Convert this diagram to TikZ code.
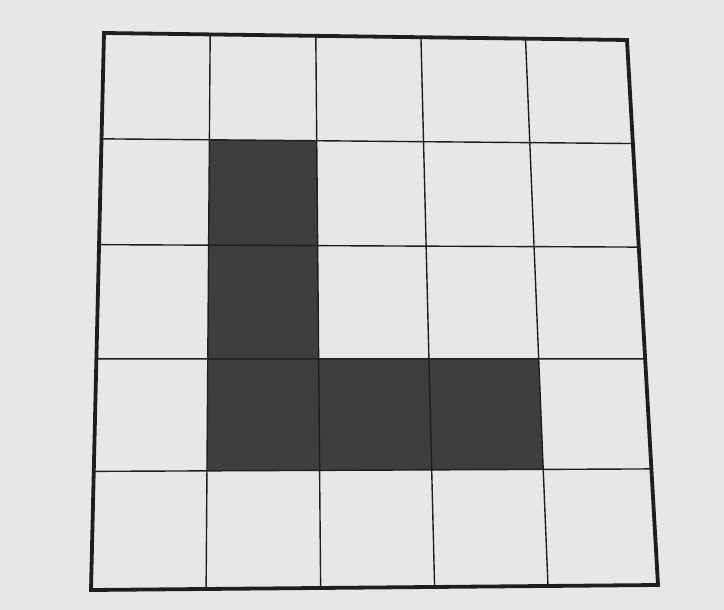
\documentclass[tikz,border=0pt]{standalone}
\usepackage{xcolor}
\usepackage{tikz}
\usetikzlibrary{calc}
\definecolor{papergray}{HTML}{E6E8E6}
\definecolor{inkblack}{HTML}{1E1E1E}
\definecolor{shadegray}{HTML}{3E3E3E}

\begin{document}
\begin{tikzpicture}[x=1pt, y=-1pt,
    gridline/.style={draw=inkblack, line width=1.4pt},
    frameline/.style={draw=inkblack, line width=3.8pt, line join=miter},
    shadecell/.style={fill=shadegray}]
    % paper
    \fill[papergray] (0,0) rectangle (724,610);
    \useasboundingbox (0,0) rectangle (724,610);
    % corners of the square as photographed
    \coordinate (TL) at (104,33);
    \coordinate (TR) at (627,40);
    \coordinate (BL) at (91,590);
    \coordinate (BR) at (658,585);
    \foreach \i/\f in {0/0, 1/0.203, 2/0.405, 3/0.606, 4/0.806, 5/1}{
      \coordinate (t\i) at ($(TL)!\f!(TR)$);
      \coordinate (b\i) at ($(BL)!\f!(BR)$);
    }
    % rows get a little taller towards the bottom
    \foreach \i in {0,...,5}{
      \foreach \j/\f in {0/0, 1/0.19, 2/0.38, 3/0.585, 4/0.787, 5/1}{
        \coordinate (p\i\j) at ($(t\i)!\f!(b\i)$);
      }
    }
    % shaded L
    \foreach \i/\j in {1/1, 1/2, 1/3, 2/3, 3/3}{
      \pgfmathtruncatemacro{\ii}{\i+1}
      \pgfmathtruncatemacro{\jj}{\j+1}
      \fill[shadecell] (p\i\j) -- (p\ii\j) -- (p\ii\jj) -- (p\i\jj) -- cycle;
    }
    % inner lines
    \foreach \k in {1,...,4}{
      \draw[gridline] (p\k0) -- (p\k5);
      \draw[gridline] (p0\k) -- (p5\k);
    }
    % frame
    \draw[frameline] (p00) -- (p50) -- (p55) -- (p05) -- cycle;
  \end{tikzpicture}
\end{document}
